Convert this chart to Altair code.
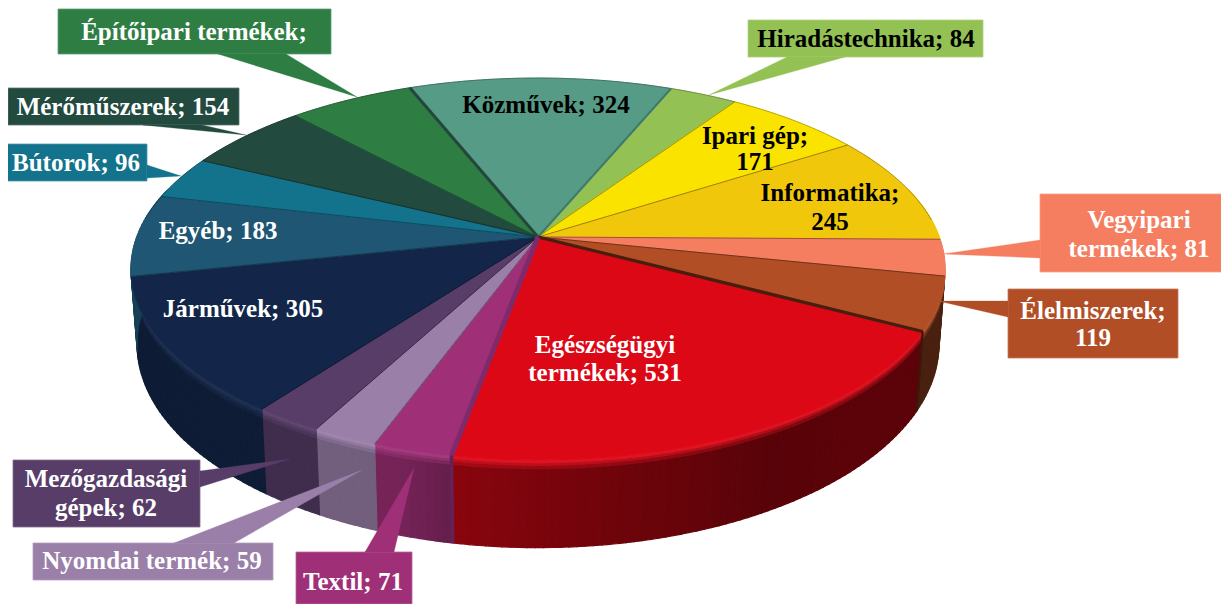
import math
import altair as alt

# ---- chart values, clockwise from the top-left start of the first slice
categories = ["Építőipari termékek", "Közművek", "Hiradástechnika", "Ipari gép", "Informatika",
              "Vegyipari termékek", "Élelmiszerek", "Egészségügyi termékek", "Textil",
              "Nyomdai termék", "Mezőgazdasági gépek", "Járművek", "Egyéb", "Bútorok", "Mérőműszerek"]
values = [155, 324, 84, 171, 245, 81, 119, 531, 71, 59, 62, 305, 183, 96, 154]
colors = ["#2E7E44", "#559B86", "#94C153", "#FBE300", "#F1C70C", "#F57E60", "#B14E26", "#DC0816",
          "#9F3077", "#9A7FA9", "#573D68", "#132649", "#1E5673", "#13728C", "#234A3F"]

# ---- pie geometry (perspective view of a disc)
START = -42.8
CX, CY, A, D, C = 538.0, 237.0, 145.9, 401.3, 0.1675
DEPTH = 73.0
BOTTOM_SCALE = 0.985

# ---- callouts: box (x0, y0, x1, y1), wedge points, fill, text colour
callouts = [
    ((58, 9, 331, 54), [(218, 54), (357, 97), (286, 54)], "#2E7E44", "white"),
    ((8, 88, 239, 125), [(143, 125), (246, 135), (202, 125)], "#234A3F", "white"),
    ((5, 144, 147, 181), [(147, 165), (181, 176), (147, 178)], "#13728C", "white"),
    ((748, 20, 983, 57), [(787, 57), (709, 95), (845, 57)], "#94C153", "black"),
    ((1040, 194, 1229, 272), [(1040, 240), (943, 254), (1040, 258)], "#F57E60", "white"),
    ((1008, 289, 1178, 358), [(1008, 301), (938, 301), (1008, 317)], "#B14E26", "white"),
    ((13, 460, 200, 527), [(200, 471), (290, 459), (200, 487)], "#573D68", "white"),
    ((33, 543, 273, 580), [(174, 543), (362, 470), (234, 543)], "#9A7FA9", "white"),
    ((296, 552, 412, 604), [(365, 552), (414, 468), (394, 552)], "#9F3077", "white"),
]
labels = [
    ("Építőipari termékek;", 194, 32, "white"), ("Mérőműszerek; 154", 123, 107, "white"),
    ("Bútorok; 96", 76, 163, "white"), ("Egyéb; 183", 218, 231, "white"),
    ("Járművek; 305", 243, 309, "white"), ("Közművek; 324", 546, 105, "black"),
    ("Hiradástechnika; 84", 866, 39, "black"), ("Ipari gép;", 755, 136, "black"), ("171", 755, 162, "black"),
    ("Informatika;", 830, 193, "black"), ("245", 830, 222, "black"),
    ("Vegyipari", 1139, 220, "white"), ("termékek; 81", 1139, 249, "white"),
    ("Élelmiszerek;", 1093, 311, "white"), ("119", 1093, 338, "white"),
    ("Egészségügyi", 605, 345, "white"), ("termékek; 531", 605, 373, "white"),
    ("Mezőgazdasági", 106, 479, "white"), ("gépek; 62", 106, 508, "white"),
    ("Nyomdai termék; 59", 152, 561, "white"), ("Textil; 71", 353, 582, "white"),
]
# radial edges that are heavier than the hairline around a slice: boundary index, colour, width
heavy_edges = [(1, "#23473C", 3.0), (2, "#3F7A6C", 2.0), (7, "#4A1E0C", 3.2), (8, "#7F2A6C", 5.0)]


def rgb(h):
    return [int(h[i:i + 2], 16) for i in (1, 3, 5)]


def mix(c1, c2, t):
    a, b = rgb(c1), rgb(c2)
    return "#%02x%02x%02x" % tuple(round(a[i] * (1 - t) + b[i] * t) for i in range(3))


def top(theta):
    r = math.radians(theta)
    u, v = math.sin(r), math.cos(r)
    d = 1 + C * v
    return CX + D * u / d, (CY - A * v) / d


def wall(theta, t):
    """Point on the outer wall, t = 0 at the rim, 1 at the floor."""
    x, y = top(theta)
    d = 1 + C * math.cos(math.radians(theta))
    return CX + (x - CX) * (1 - (1 - BOTTOM_SCALE) * t), y + t * DEPTH / d


def shade(theta):
    pts = [(70, .42), (130, .42), (150, .40), (170, .50), (190, .62), (197, .74), (300, .74)]
    for (a, fa), (b, fb) in zip(pts, pts[1:]):
        if a <= theta <= b:
            return fa + (fb - fa) * (theta - a) / (b - a)
    return .6


def feature(coords, fill, stroke=None, sw=0.6, closed=True):
    geom = {"type": "Polygon", "coordinates": [coords + [coords[0]]]} if closed else \
        {"type": "LineString", "coordinates": coords}
    return {"type": "Feature", "geometry": geom,
            "properties": {"fill": fill, "stroke": stroke or fill, "sw": sw}}


total = sum(values)
edges = [START]
for val in values:
    edges.append(edges[-1] + val / total * 360)

walls, tops, lines, boxes = [], [], [], []
BANDS = [(.10, 1.0, 0.0), (.06, .10, .33), (.03, .06, .66), (0, .03, 1.0)]
for i, col in enumerate(colors):
    a0, a1 = edges[i], edges[i + 1]
    n = max(2, int((a1 - a0) / 1.0))
    ths = [a0 + (a1 - a0) * k / n for k in range(n + 1)]
    tops.append(feature([[CX, CY]] + [list(top(t)) for t in ths], col, col, 0.5))
    # hairline: radial boundary of every slice and the rim on the far side only
    lines.append(feature([[CX, CY], list(top(a0))], "none", mix(col, "#000000", .35), 1.0, closed=False))
    back = [list(top(t)) for t in ths if t < 85 or t > 275]
    if len(back) > 1:
        lines.append(feature(back, "none", mix(col, "#000000", .3), 0.9, closed=False))
    for t0, t1 in zip(ths, ths[1:]):
        m = (t0 + t1) / 2
        if 75 <= m <= 285:
            base = mix("#000000", col, shade(m))
            for h0, h1, k in BANDS:
                c = mix(base, mix(col, "#ffffff", .05), k)
                q = [list(wall(t0, h0)), list(wall(t1, h0)), list(wall(t1, h1)), list(wall(t0, h1))]
                walls.append(feature(q, c, c, 1.2))

for idx, c, w in heavy_edges:
    lines.append(feature([[CX, CY], list(top(edges[idx]))], "none", c, w, closed=False))
    if 75 <= edges[idx] <= 285:
        lines.append(feature([list(wall(edges[idx], 0)), list(wall(edges[idx], 1))], "none", mix(c, "#000000", .2), w * .7, closed=False))

for (x0, y0, x1, y1), wedge, fill, _ in callouts:
    edge = mix(fill, "#ffffff", .25)
    boxes.append(feature([[x0, y0], [x1, y0], [x1, y1], [x0, y1]], fill, edge, 0.8))
    boxes.append(feature([[x, y] for x, y in wedge], fill, fill, 0.3))

proj = dict(type="identity", scale=1, translate=[-8, -8])


def shapes(feats):
    return alt.Chart(alt.Data(values=feats)).mark_geoshape().encode(
        fill=alt.Fill("properties.fill:N", scale=None),
        stroke=alt.Stroke("properties.stroke:N", scale=None),
        strokeWidth=alt.StrokeWidth("properties.sw:Q", scale=None),
    ).project(**proj)


line_layer = alt.Chart(alt.Data(values=lines)).mark_geoshape(filled=False, strokeCap="butt").encode(
    stroke=alt.Stroke("properties.stroke:N", scale=None),
    strokeWidth=alt.StrokeWidth("properties.sw:Q", scale=None),
).project(**proj)

text_layer = alt.Chart(alt.Data(values=[
    {"t": t, "lon": x, "lat": y, "c": c} for t, x, y, c in labels
])).mark_text(font="Liberation Serif", fontWeight="bold", fontSize=25, align="center", baseline="middle").encode(
    longitude="lon:Q", latitude="lat:Q", text="t:N", color=alt.Color("c:N", scale=None),
).project(**proj)

chart = alt.layer(shapes(walls), shapes(tops), line_layer, shapes(boxes), text_layer).properties(
    width=1213, height=596, padding=0, autosize=alt.AutoSizeParams(type="none"),
).configure_view(stroke=None).configure(background="white")

chart.save("out.html", embed_options={"renderer": "svg", "actions": False})
